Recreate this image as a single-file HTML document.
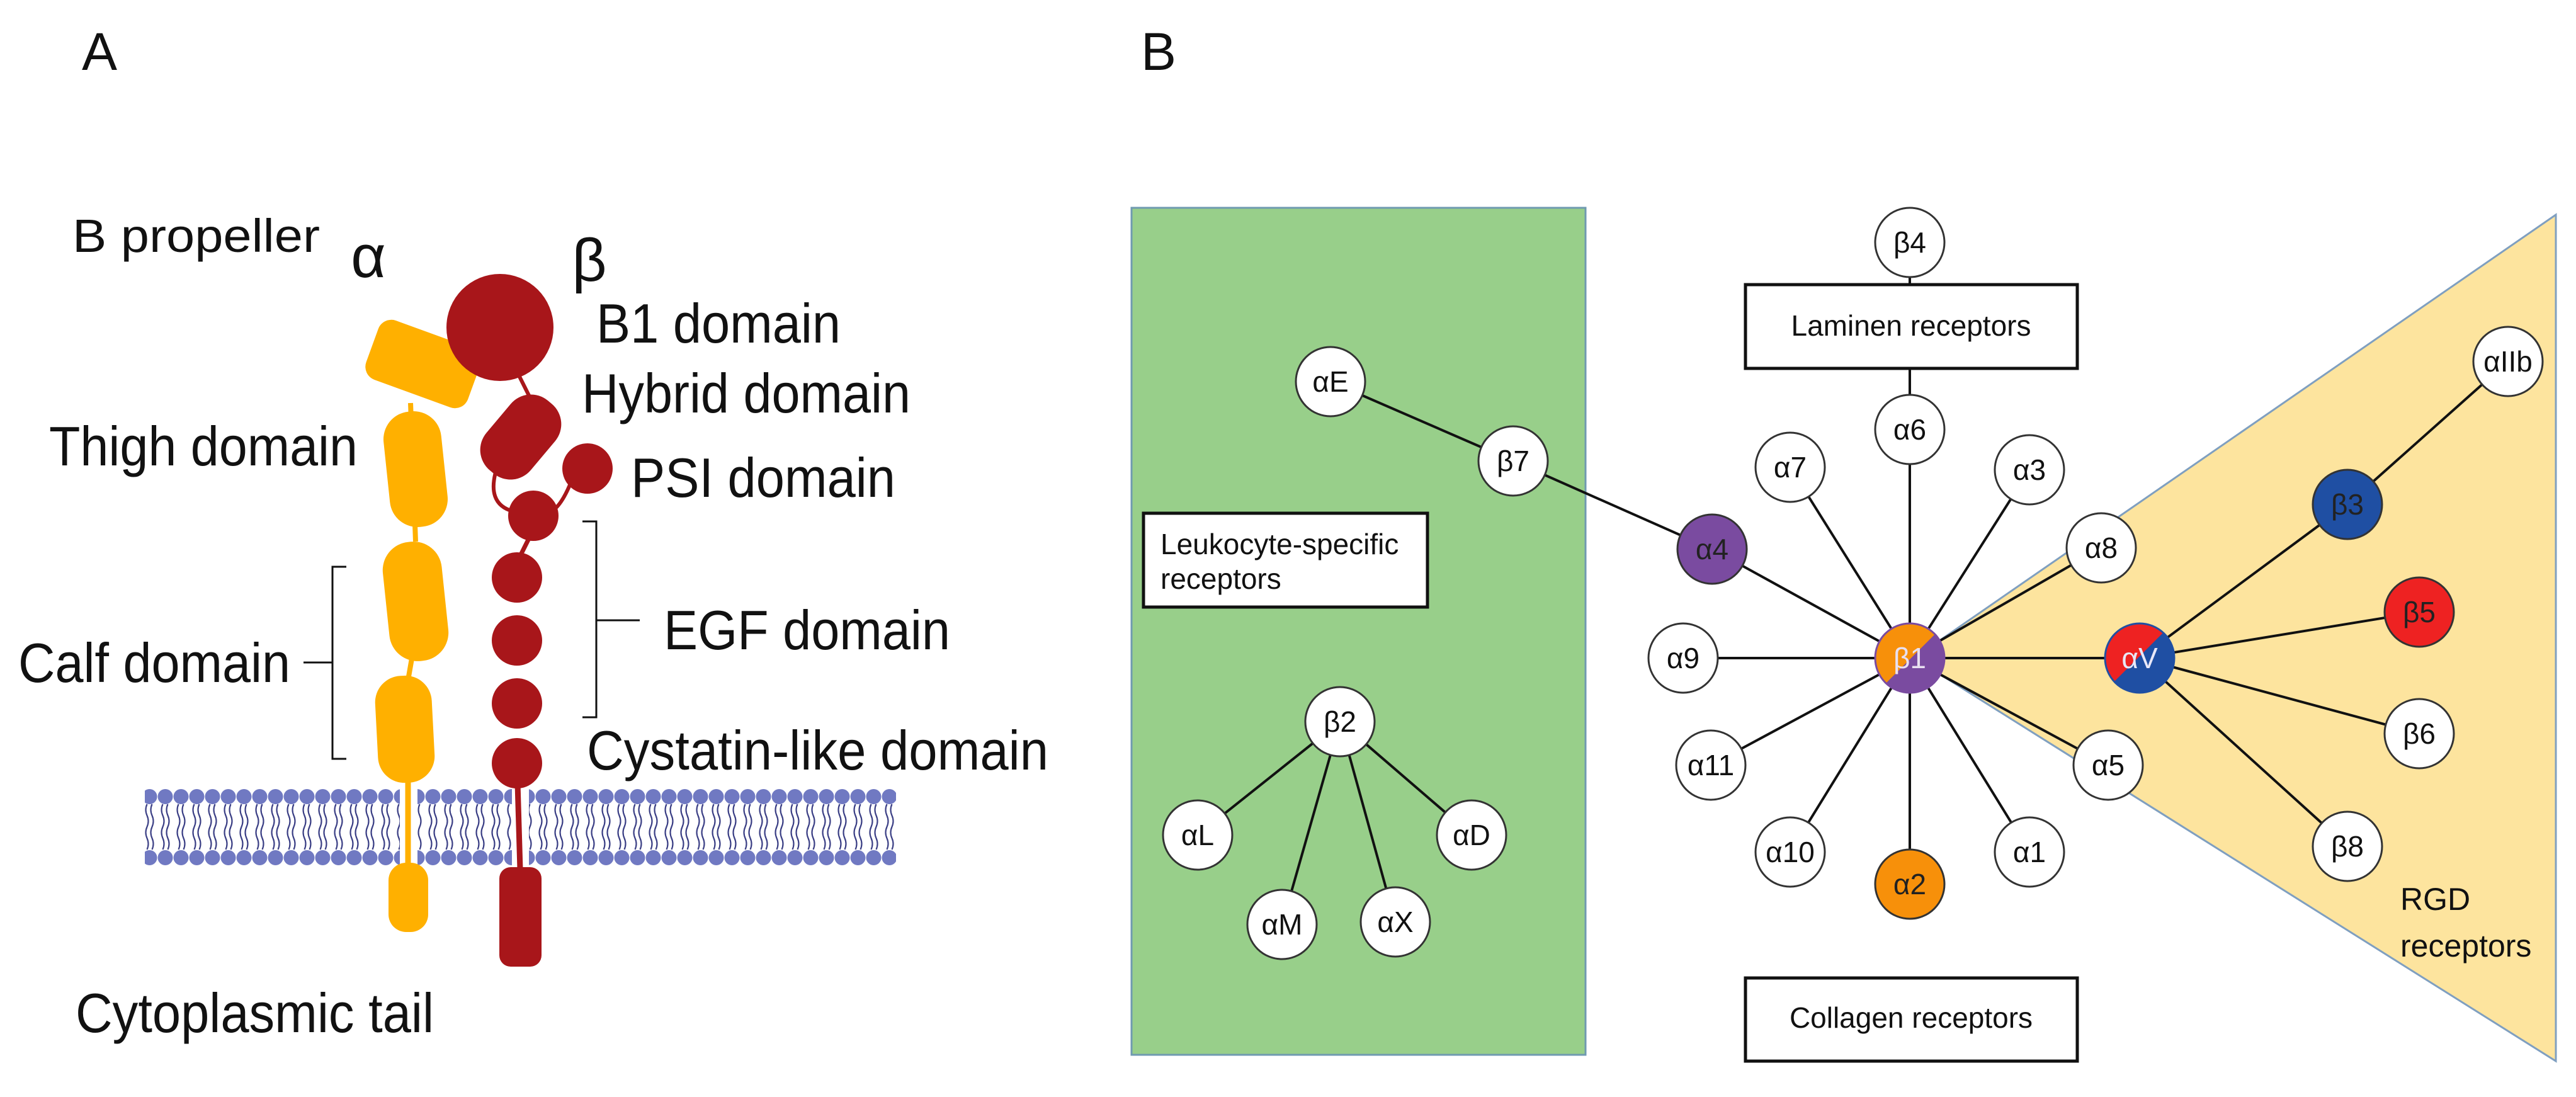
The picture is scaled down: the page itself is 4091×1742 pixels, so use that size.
<!DOCTYPE html>
<html><head><meta charset="utf-8"><style>
html,body{margin:0;padding:0;background:#fff;}
svg{display:block;}
.a{font-family:"Liberation Sans Narrow","Liberation Sans",sans-serif;fill:#111;}
.b{font-family:"Liberation Sans",sans-serif;fill:#111;}
</style></head><body>
<svg width="4091" height="1742" viewBox="0 0 4091 1742" xmlns="http://www.w3.org/2000/svg">
<defs>
<pattern id="mem" patternUnits="userSpaceOnUse" x="0" y="1253" width="25" height="121">
<path d="M8.5,24 q-4,9 0,18 t0,18 t0,18 t0,18 M16.5,24 q-4,9 0,18 t0,18 t0,18 t0,18" fill="none" stroke="#3b3f85" stroke-width="2.2"/>
<circle cx="12.5" cy="12" r="12" fill="#7079c2"/>
<circle cx="12.5" cy="109" r="12" fill="#7079c2"/>
</pattern>
</defs>
<rect width="4091" height="1742" fill="#fff"/>

<!-- Panel A -->
<text x="130" y="111" class="b" font-size="84">A</text>
<rect x="230" y="1253" width="405" height="121" fill="url(#mem)"/>
<rect x="663" y="1253" width="150" height="121" fill="url(#mem)"/>
<rect x="840" y="1253" width="583" height="121" fill="url(#mem)"/>

<g fill="#FFB000" stroke="#FFB000">
<line x1="652" y1="640" x2="660" y2="860" stroke-width="8"/>
<line x1="655" y1="1040" x2="648" y2="1080" stroke-width="8"/>
<line x1="648" y1="1230" x2="648" y2="1375" stroke-width="9"/>
<rect x="-86" y="-50" width="172" height="100" rx="22" transform="translate(672,578) rotate(20)" stroke="none"/>
<rect x="-46" y="-92" width="92" height="184" rx="44" transform="translate(660,745) rotate(-6)" stroke="none"/>
<rect x="-47" y="-95" width="94" height="190" rx="45" transform="translate(660,955) rotate(-6)" stroke="none"/>
<rect x="-45" y="-85" width="90" height="170" rx="42" transform="translate(643,1158) rotate(-3)" stroke="none"/>
<rect x="617" y="1370" width="63" height="110" rx="28" stroke="none"/>
</g>

<g fill="#A8161A" stroke="#A8161A">
<path d="M825,598 L842,632" stroke-width="6" fill="none"/>
<path d="M790,740 Q770,800 815,812" stroke-width="6" fill="none"/>
<path d="M905,770 Q890,805 875,812" stroke-width="6" fill="none"/>
<line x1="840" y1="855" x2="825" y2="885" stroke-width="7"/>
<line x1="821" y1="1210" x2="826" y2="1380" stroke-width="9"/>
<circle cx="794" cy="520" r="85" stroke="none"/>
<rect x="-46" y="-72" width="92" height="144" rx="42" transform="translate(827,694) rotate(40)" stroke="none"/>
<circle cx="933" cy="744" r="40" stroke="none"/>
<circle cx="847" cy="819" r="40" stroke="none"/>
<circle cx="821" cy="917" r="40" stroke="none"/>
<circle cx="821" cy="1017" r="40" stroke="none"/>
<circle cx="821" cy="1117" r="40" stroke="none"/>
<circle cx="821" cy="1212" r="40" stroke="none"/>
<rect x="793" y="1377" width="67" height="158" rx="18" stroke="none"/>
</g>

<path d="M550,900 L528,900 L528,1205 L550,1205 M528,1052 L482,1052" fill="none" stroke="#111" stroke-width="3"/>
<path d="M925,828 L947,828 L947,1139 L925,1139 M947,985 L1016,985" fill="none" stroke="#111" stroke-width="3"/>

<text x="115" y="400" class="a" font-size="74" textLength="393" lengthAdjust="spacingAndGlyphs">B propeller</text>
<text x="585" y="440" class="b" font-size="96" text-anchor="middle">α</text>
<text x="936" y="446" class="b" font-size="96" text-anchor="middle">β</text>
<text x="947" y="544" class="a" font-size="88" textLength="388" lengthAdjust="spacingAndGlyphs">B1 domain</text>
<text x="924" y="655" class="a" font-size="88" textLength="522" lengthAdjust="spacingAndGlyphs">Hybrid domain</text>
<text x="1002" y="789" class="a" font-size="88" textLength="420" lengthAdjust="spacingAndGlyphs">PSI domain</text>
<text x="78" y="739" class="a" font-size="88" textLength="490" lengthAdjust="spacingAndGlyphs">Thigh domain</text>
<text x="1054" y="1031" class="a" font-size="88" textLength="455" lengthAdjust="spacingAndGlyphs">EGF domain</text>
<text x="29" y="1083" class="a" font-size="88" textLength="432" lengthAdjust="spacingAndGlyphs">Calf domain</text>
<text x="932" y="1222" class="a" font-size="88" textLength="733" lengthAdjust="spacingAndGlyphs">Cystatin-like domain</text>
<text x="120" y="1639" class="a" font-size="88" textLength="569" lengthAdjust="spacingAndGlyphs">Cytoplasmic tail</text>

<!-- Panel B -->
<text x="1812" y="111" class="b" font-size="84">B</text>
<rect x="1797" y="330" width="721" height="1345" fill="#98CF8A" stroke="#6f9ab0" stroke-width="3"/>
<polygon points="3040,1045 4059,341 4059,1685" fill="#FDE49E" stroke="#7f9fc0" stroke-width="3"/>

<g stroke="#111" stroke-width="4" fill="none">
<line x1="2113" y1="606" x2="2403" y2="732"/>
<line x1="2403" y1="732" x2="2719" y2="872"/>
<line x1="2719" y1="872" x2="3033" y2="1045"/>
<line x1="2128" y1="1146" x2="1902" y2="1326"/>
<line x1="2128" y1="1146" x2="2337" y2="1326"/>
<line x1="2128" y1="1146" x2="2036" y2="1468"/>
<line x1="2128" y1="1146" x2="2216" y2="1464"/>
<line x1="3033" y1="385" x2="3033" y2="1404"/>
<line x1="3033" y1="1045" x2="2673" y2="1045"/>
<line x1="3033" y1="1045" x2="2717" y2="1215"/>
<line x1="3033" y1="1045" x2="2843" y2="1353"/>
<line x1="3033" y1="1045" x2="2843" y2="742"/>
<line x1="3033" y1="1045" x2="3223" y2="746"/>
<line x1="3033" y1="1045" x2="3337" y2="870"/>
<line x1="3033" y1="1045" x2="3398" y2="1045"/>
<line x1="3033" y1="1045" x2="3348" y2="1215"/>
<line x1="3033" y1="1045" x2="3223" y2="1353"/>
<line x1="3398" y1="1045" x2="3728" y2="801"/>
<line x1="3728" y1="801" x2="3983" y2="574"/>
<line x1="3398" y1="1045" x2="3842" y2="972"/>
<line x1="3398" y1="1045" x2="3842" y2="1165"/>
<line x1="3398" y1="1045" x2="3728" y2="1344"/>
</g>

<rect x="1816" y="815" width="451" height="149" fill="#fff" stroke="#111" stroke-width="5"/>
<text x="1843" y="880" class="b" font-size="46">Leukocyte-specific</text>
<text x="1843" y="935" class="b" font-size="46">receptors</text>
<rect x="2772" y="452" width="527" height="133" fill="#fff" stroke="#111" stroke-width="5"/>
<text x="3035" y="533" class="b" font-size="46" text-anchor="middle">Laminen receptors</text>
<rect x="2772" y="1553" width="527" height="132" fill="#fff" stroke="#111" stroke-width="5"/>
<text x="3035" y="1632" class="b" font-size="46" text-anchor="middle">Collagen receptors</text>
<text x="3812" y="1445" class="b" font-size="50" fill="#222">RGD</text>
<text x="3812" y="1519" class="b" font-size="50" fill="#222">receptors</text>

<g stroke="#333" stroke-width="3" fill="#fff">
<circle cx="2113" cy="606" r="55"/>
<circle cx="2403" cy="732" r="55"/>
<circle cx="2128" cy="1146" r="55"/>
<circle cx="1902" cy="1326" r="55"/>
<circle cx="2337" cy="1326" r="55"/>
<circle cx="2036" cy="1468" r="55"/>
<circle cx="2216" cy="1464" r="55"/>
<circle cx="2673" cy="1045" r="55"/>
<circle cx="2717" cy="1215" r="55"/>
<circle cx="2843" cy="1353" r="55"/>
<circle cx="2843" cy="742" r="55"/>
<circle cx="3033" cy="385" r="55"/>
<circle cx="3033" cy="682" r="55"/>
<circle cx="3223" cy="746" r="55"/>
<circle cx="3337" cy="870" r="55"/>
<circle cx="3348" cy="1215" r="55"/>
<circle cx="3223" cy="1353" r="55"/>
<circle cx="3983" cy="574" r="55"/>
<circle cx="3842" cy="1165" r="55"/>
<circle cx="3728" cy="1344" r="55"/>
<circle cx="2719" cy="872" r="55" fill="#7A4BA0"/>
<circle cx="3033" cy="1404" r="55" fill="#F7900A"/>
<circle cx="3728" cy="801" r="55" fill="#1F4FA3"/>
<circle cx="3842" cy="972" r="55" fill="#EE2222"/>
</g>
<!-- β1 split -->
<clipPath id="c1"><circle cx="3033" cy="1045" r="54"/></clipPath>
<g clip-path="url(#c1)">
<rect x="2970" y="980" width="130" height="130" fill="#7A4BA0"/>
<polygon points="2970,980 3100,980 2970,1110" fill="#F7900A"/>
</g>
<circle cx="3033" cy="1045" r="55" fill="none" stroke="#7A4BA0" stroke-width="3"/>
<clipPath id="c2"><circle cx="3398" cy="1045" r="54"/></clipPath>
<g clip-path="url(#c2)">
<rect x="3330" y="980" width="130" height="130" fill="#1F4FA3"/>
<polygon points="3330,980 3460,980 3330,1110" fill="#EE2222"/>
</g>
<circle cx="3398" cy="1045" r="55" fill="none" stroke="#1F4FA3" stroke-width="3"/>

<g class="b" font-size="46" text-anchor="middle" fill="#111">
<text x="2113" y="622">αE</text>
<text x="2403" y="748">β7</text>
<text x="2128" y="1162">β2</text>
<text x="1902" y="1342">αL</text>
<text x="2337" y="1342">αD</text>
<text x="2036" y="1484">αM</text>
<text x="2216" y="1480">αX</text>
<text x="2673" y="1061">α9</text>
<text x="2717" y="1231">α11</text>
<text x="2843" y="1369">α10</text>
<text x="2843" y="758">α7</text>
<text x="3033" y="401">β4</text>
<text x="3033" y="698">α6</text>
<text x="3223" y="762">α3</text>
<text x="3337" y="886">α8</text>
<text x="3348" y="1231">α5</text>
<text x="3223" y="1369">α1</text>
<text x="3983" y="590">αIIb</text>
<text x="3842" y="1181">β6</text>
<text x="3728" y="1360">β8</text>
<text x="2719" y="888" fill="#222">α4</text>
<text x="3033" y="1420" fill="#222">α2</text>
<text x="3728" y="817" fill="#222">β3</text>
<text x="3842" y="988" fill="#222">β5</text>
<text x="3033" y="1061" fill="#e8e0f0">β1</text>
<text x="3398" y="1061" fill="#e8e8f8">αV</text>
</g>
</svg>
</body></html>
